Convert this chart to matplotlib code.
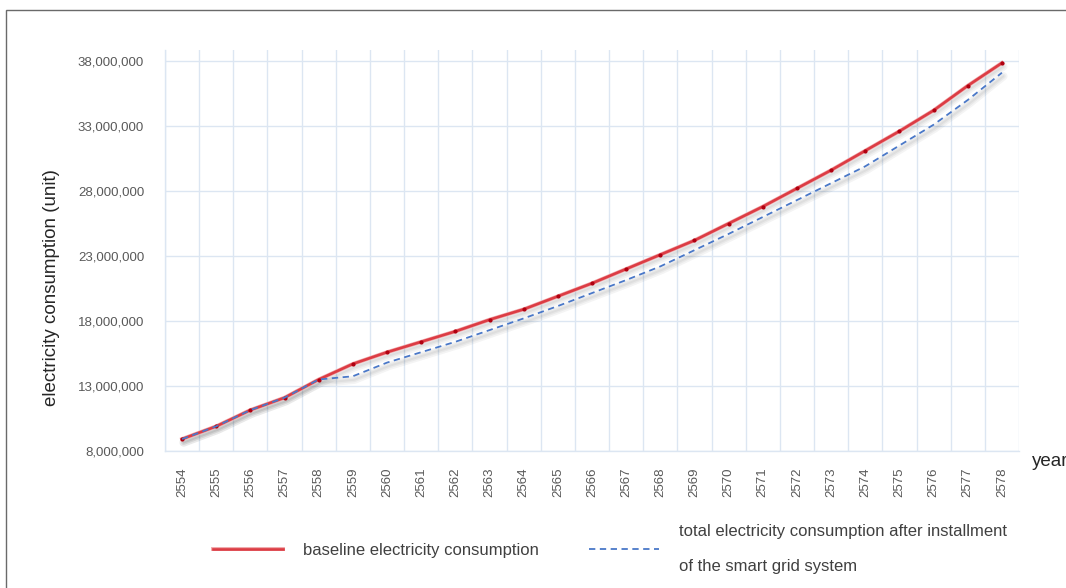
import matplotlib
matplotlib.use('Agg')
import matplotlib.pyplot as plt
import matplotlib.patheffects as pe
import matplotlib.transforms as mtransforms
from matplotlib.lines import Line2D
from matplotlib.patches import Rectangle
from matplotlib.ticker import FuncFormatter, FixedLocator

# ==========================================
# data
# ==========================================
years = [str(y) for y in range(2554, 2579)]

baseline = [8.92, 9.90, 11.15, 12.10, 13.50, 14.70, 15.60, 16.40, 17.20, 18.10,
            18.90, 19.90, 20.90, 22.00, 23.10, 24.20, 25.50, 26.80, 28.20, 29.60,
            31.10, 32.60, 34.20, 36.10, 37.85]
smart_grid = [8.92, 9.90, 11.15, 12.10, 13.50, 13.75, 14.80, 15.60, 16.40, 17.30,
              18.20, 19.15, 20.15, 21.15, 22.20, 23.45, 24.70, 26.00, 27.30, 28.60,
              29.90, 31.50, 33.10, 35.00, 37.10]
baseline = [v * 1e6 for v in baseline]
smart_grid = [v * 1e6 for v in smart_grid]

y_ticks = [8e6, 13e6, 18e6, 23e6, 28e6, 33e6, 38e6]

label_base = 'baseline electricity consumption'
label_smart = 'total electricity consumption after installment\nof the smart grid system'

plt.rcParams['font.family'] = ['Liberation Sans', 'DejaVu Sans']

W, H = 1066, 588
fig = plt.figure(figsize=(W / 100, H / 100), dpi=100)

# outer frame (only top and left edges visible)
fig.patches.append(Rectangle((6 / W, -0.1), 1.2, 1 - 10 / H + 0.1,
                             transform=fig.transFigure, fill=False,
                             edgecolor='#6a6a6a', linewidth=1.0))

ax = fig.add_axes([165 / W, 1 - 451 / H, (1019 - 165) / W, (451 - 50) / H])

x = list(range(len(years)))
grid_c = '#dce6f2'
red = '#dc3c44'
blue = '#4a78c8'

# soft solid drop shadow under both lines (offset a few pixels down/right)
shadow_tr = mtransforms.offset_copy(ax.transData, fig=fig, x=1.5, y=-3.5, units='dots')
for series in (baseline, smart_grid):
    for lw in (6, 3.5, 1.5):
        ax.plot(x, series, color='#000000', alpha=0.045, lw=lw,
                solid_capstyle='round', transform=shadow_tr, zorder=2)

ax.plot(x, baseline, color=red, lw=1.9, zorder=3,
        path_effects=[pe.Stroke(linewidth=2.8, foreground='#f0a8ab'), pe.Normal()])
ax.plot(x, baseline, ls='none', marker='o', ms=2.0, mfc='#b00010', mec='#b00010', zorder=3.5)
ax.plot(x, smart_grid, color=blue, lw=1.3, ls=(0, (3.5, 2.5)), zorder=4)

ax.set_xlim(-0.5, len(years) - 0.5)
ax.set_ylim(8e6, 8e6 + 401 / 13 * 1e6)

ax.set_xticks(x)
ax.set_xticklabels(years, rotation=90, fontsize=9.5, color='#595959')
ax.xaxis.set_minor_locator(FixedLocator([i - 0.5 for i in range(len(years) + 1)]))
ax.set_yticks(y_ticks)
ax.yaxis.set_major_formatter(FuncFormatter(lambda v, p: f'{int(v):,}'))
ax.tick_params(axis='y', labelsize=9.5, labelcolor='#595959', length=0, pad=15)
ax.tick_params(axis='x', which='both', length=0, pad=12)

ax.grid(True, axis='y', which='major', color=grid_c, lw=1.0)
ax.grid(True, axis='x', which='minor', color=grid_c, lw=1.0)
ax.grid(False, axis='x', which='major')
ax.set_axisbelow(True)
for s in ['top', 'right']:
    ax.spines[s].set_visible(False)
for s in ['left', 'bottom']:
    ax.spines[s].set_color(grid_c)
    ax.spines[s].set_linewidth(1.0)

fig.text(52 / W, 1 - 288 / H, 'electricity consumption (unit)', rotation=90,
         ha='center', va='center', fontsize=13.5, color='#262626')
fig.text(1032 / W, 1 - 461 / H, 'year', ha='left', va='center',
         fontsize=13.5, color='#262626')

handles = [Line2D([], [], color=red, lw=1.9,
                  path_effects=[pe.Stroke(linewidth=2.8, foreground='#f0a8ab'), pe.Normal()]),
           Line2D([], [], color=blue, lw=1.3, ls=(0, (3.5, 2.5)))]
leg = fig.legend(handles, [label_base, label_smart], loc='center',
                 bbox_to_anchor=(610 / W, 1 - 549 / H), ncol=2,
                 frameon=False, fontsize=12, handlelength=4.2, handletextpad=1.2,
                 columnspacing=3.0)
for t in leg.get_texts():
    t.set_color('#404040')
    t.set_linespacing(2.6)

fig.savefig('out.png', dpi=100)
